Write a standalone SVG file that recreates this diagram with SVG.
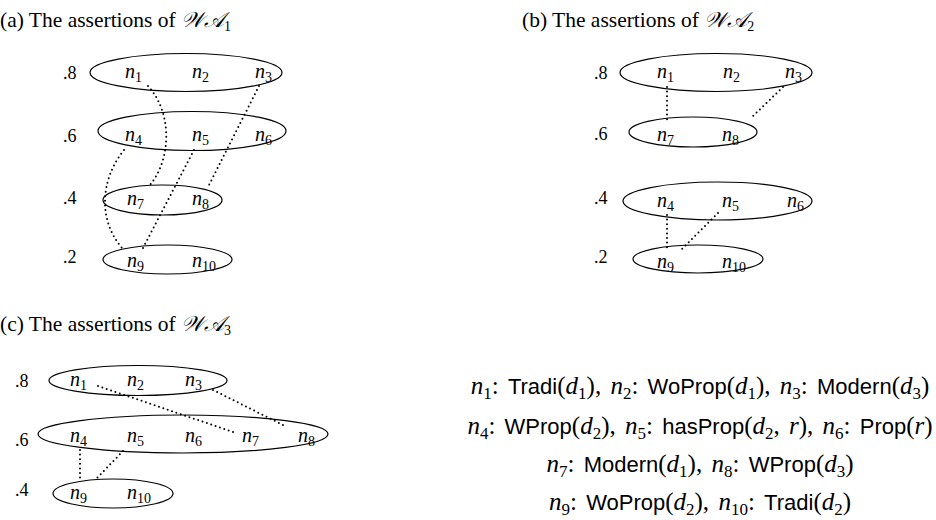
<svg xmlns="http://www.w3.org/2000/svg" width="936" height="520" viewBox="0 0 936 520">
<style>
text{fill:#000}
.t{font-family:"Liberation Serif",serif;font-size:21.5px}
.sc{font-family:"DejaVu Serif","DejaVu Sans","Noto Sans",serif;font-style:italic}
.lv{font-family:"Liberation Serif",serif;font-size:18px}
.nl{font-family:"Liberation Serif",serif;font-style:italic;font-size:20px}
.sb{font-size:14px;font-style:normal}
.lg{font-family:"Liberation Serif",serif;font-size:25px;word-spacing:3px}
.lg .sb{font-size:17px}
.it{font-style:italic}
.sf{font-family:"Liberation Sans",sans-serif;font-size:22px}
ellipse{fill:none;stroke:#000;stroke-width:1.2}
.dot{fill:none;stroke:#000;stroke-width:2;stroke-linecap:round;stroke-dasharray:0 4.6}
</style>

<!-- panel titles -->
<g id="titles">
<text class="t" x="0" y="27">(a) The assertions of <tspan class="sc">𝒲𝒜</tspan><tspan class="sb" dy="4">1</tspan></text>
<text class="t" x="522" y="27">(b) The assertions of <tspan class="sc">𝒲𝒜</tspan><tspan class="sb" dy="4">2</tspan></text>
<text class="t" x="0" y="331">(c) The assertions of <tspan class="sc">𝒲𝒜</tspan><tspan class="sb" dy="4">3</tspan></text>
</g>

<!-- (a) levels -->
<g id="a-l8">
<ellipse cx="186" cy="72.5" rx="96" ry="19"/>
<text class="lv" x="63" y="79">.8</text>
<text class="nl" x="125" y="78">n<tspan class="sb" dy="4">1</tspan></text>
<text class="nl" x="192" y="78">n<tspan class="sb" dy="4">2</tspan></text>
<text class="nl" x="255" y="78">n<tspan class="sb" dy="4">3</tspan></text>
</g>
<g id="a-l6">
<ellipse cx="192" cy="131" rx="94" ry="19.5"/>
<text class="lv" x="63" y="142">.6</text>
<text class="nl" x="125" y="141">n<tspan class="sb" dy="4">4</tspan></text>
<text class="nl" x="192" y="141">n<tspan class="sb" dy="4">5</tspan></text>
<text class="nl" x="255" y="141">n<tspan class="sb" dy="4">6</tspan></text>
</g>
<g id="a-l4">
<ellipse cx="162.5" cy="200" rx="59.5" ry="15"/>
<text class="lv" x="63" y="204">.4</text>
<text class="nl" x="127" y="205">n<tspan class="sb" dy="4">7</tspan></text>
<text class="nl" x="192" y="205">n<tspan class="sb" dy="4">8</tspan></text>
</g>
<g id="a-l2">
<ellipse cx="167.5" cy="259.5" rx="64.5" ry="14.5"/>
<text class="lv" x="63" y="263">.2</text>
<text class="nl" x="127" y="267">n<tspan class="sb" dy="4">9</tspan></text>
<text class="nl" x="192" y="267">n<tspan class="sb" dy="4">10</tspan></text>
</g>

<!-- (b) levels -->
<g id="b-l8">
<ellipse cx="716" cy="72.5" rx="96" ry="19"/>
<text class="lv" x="594" y="79">.8</text>
<text class="nl" x="657" y="78">n<tspan class="sb" dy="4">1</tspan></text>
<text class="nl" x="723" y="78">n<tspan class="sb" dy="4">2</tspan></text>
<text class="nl" x="785" y="78">n<tspan class="sb" dy="4">3</tspan></text>
</g>
<g id="b-l6">
<ellipse cx="693" cy="132" rx="64" ry="15"/>
<text class="lv" x="594" y="140">.6</text>
<text class="nl" x="657" y="141">n<tspan class="sb" dy="4">7</tspan></text>
<text class="nl" x="722" y="141">n<tspan class="sb" dy="4">8</tspan></text>
</g>
<g id="b-l4">
<ellipse cx="717.5" cy="201" rx="94.5" ry="19"/>
<text class="lv" x="594" y="204">.4</text>
<text class="nl" x="657" y="207">n<tspan class="sb" dy="4">4</tspan></text>
<text class="nl" x="722" y="207">n<tspan class="sb" dy="4">5</tspan></text>
<text class="nl" x="787" y="207">n<tspan class="sb" dy="4">6</tspan></text>
</g>
<g id="b-l2">
<ellipse cx="698" cy="259" rx="65" ry="14"/>
<text class="lv" x="594" y="263">.2</text>
<text class="nl" x="657" y="268">n<tspan class="sb" dy="4">9</tspan></text>
<text class="nl" x="722" y="268">n<tspan class="sb" dy="4">10</tspan></text>
</g>

<!-- (c) levels -->
<g id="c-l8">
<ellipse cx="138" cy="380.5" rx="89" ry="15"/>
<text class="lv" x="15" y="387">.8</text>
<text class="nl" x="70" y="386">n<tspan class="sb" dy="4">1</tspan></text>
<text class="nl" x="127" y="386">n<tspan class="sb" dy="4">2</tspan></text>
<text class="nl" x="185" y="386">n<tspan class="sb" dy="4">3</tspan></text>
</g>
<g id="c-l6">
<ellipse cx="183" cy="434" rx="145" ry="19"/>
<text class="lv" x="15" y="446">.6</text>
<text class="nl" x="70" y="442">n<tspan class="sb" dy="4">4</tspan></text>
<text class="nl" x="127" y="442">n<tspan class="sb" dy="4">5</tspan></text>
<text class="nl" x="185" y="442">n<tspan class="sb" dy="4">6</tspan></text>
<text class="nl" x="242" y="442">n<tspan class="sb" dy="4">7</tspan></text>
<text class="nl" x="298" y="442">n<tspan class="sb" dy="4">8</tspan></text>
</g>
<g id="c-l4">
<ellipse cx="113" cy="493.5" rx="60" ry="14.5"/>
<text class="lv" x="15" y="496">.4</text>
<text class="nl" x="70" y="499">n<tspan class="sb" dy="4">9</tspan></text>
<text class="nl" x="127" y="499">n<tspan class="sb" dy="4">10</tspan></text>
</g>

<!-- dotted links between assertions -->
<g id="connectors">
<path class="dot" d="M148,86 C172,112 172,158 150,185"/>
<path class="dot" d="M259,86 L208,187"/>
<path class="dot" d="M124,150 C100,180 98,220 122,248"/>
<path class="dot" d="M194,150 L143,248"/>
<path class="dot" d="M667,87 L667,121"/>
<path class="dot" d="M783,87 L750,119"/>
<path class="dot" d="M667,215 L667,248"/>
<path class="dot" d="M718,213 L680,251"/>
<path class="dot" d="M98,386 L233,432"/>
<path class="dot" d="M213,390 L287,427"/>
<path class="dot" d="M80,450 L80,480"/>
<path class="dot" d="M123,451 L97,478"/>
</g>

<!-- legend -->
<g id="legend">
<text class="lg" x="700" y="394" text-anchor="middle"><tspan class="it">n</tspan><tspan class="sb" dy="5">1</tspan><tspan dy="-5">: </tspan><tspan class="sf">Tradi</tspan>(<tspan class="it">d</tspan><tspan class="sb" dy="5">1</tspan><tspan dy="-5">), </tspan><tspan class="it">n</tspan><tspan class="sb" dy="5">2</tspan><tspan dy="-5">: </tspan><tspan class="sf">WoProp</tspan>(<tspan class="it">d</tspan><tspan class="sb" dy="5">1</tspan><tspan dy="-5">), </tspan><tspan class="it">n</tspan><tspan class="sb" dy="5">3</tspan><tspan dy="-5">: </tspan><tspan class="sf">Modern</tspan>(<tspan class="it">d</tspan><tspan class="sb" dy="5">3</tspan><tspan dy="-5">)</tspan></text>
<text class="lg" x="700" y="434" text-anchor="middle"><tspan class="it">n</tspan><tspan class="sb" dy="5">4</tspan><tspan dy="-5">: </tspan><tspan class="sf">WProp</tspan>(<tspan class="it">d</tspan><tspan class="sb" dy="5">2</tspan><tspan dy="-5">), </tspan><tspan class="it">n</tspan><tspan class="sb" dy="5">5</tspan><tspan dy="-5">: </tspan><tspan class="sf">hasProp</tspan>(<tspan class="it">d</tspan><tspan class="sb" dy="5">2</tspan><tspan dy="-5">, </tspan><tspan class="it">r</tspan>), <tspan class="it">n</tspan><tspan class="sb" dy="5">6</tspan><tspan dy="-5">: </tspan><tspan class="sf">Prop</tspan>(<tspan class="it">r</tspan>)</text>
<text class="lg" x="700" y="472" text-anchor="middle"><tspan class="it">n</tspan><tspan class="sb" dy="5">7</tspan><tspan dy="-5">: </tspan><tspan class="sf">Modern</tspan>(<tspan class="it">d</tspan><tspan class="sb" dy="5">1</tspan><tspan dy="-5">), </tspan><tspan class="it">n</tspan><tspan class="sb" dy="5">8</tspan><tspan dy="-5">: </tspan><tspan class="sf">WProp</tspan>(<tspan class="it">d</tspan><tspan class="sb" dy="5">3</tspan><tspan dy="-5">)</tspan></text>
<text class="lg" x="700" y="510" text-anchor="middle"><tspan class="it">n</tspan><tspan class="sb" dy="5">9</tspan><tspan dy="-5">: </tspan><tspan class="sf">WoProp</tspan>(<tspan class="it">d</tspan><tspan class="sb" dy="5">2</tspan><tspan dy="-5">), </tspan><tspan class="it">n</tspan><tspan class="sb" dy="5">10</tspan><tspan dy="-5">: </tspan><tspan class="sf">Tradi</tspan>(<tspan class="it">d</tspan><tspan class="sb" dy="5">2</tspan><tspan dy="-5">)</tspan></text>
</g>
</svg>
